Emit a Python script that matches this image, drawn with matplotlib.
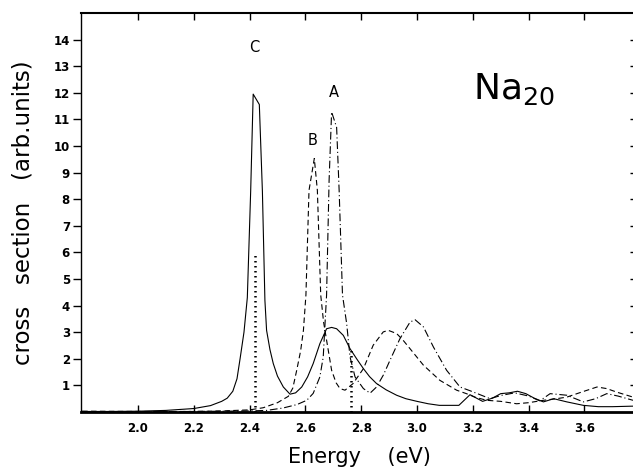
import numpy as np
import matplotlib
matplotlib.use("Agg")
import matplotlib.pyplot as plt

# energies (eV) and cross sections
energy_c = [1.80, 1.90, 2.00, 2.10, 2.20, 2.26, 2.30, 2.32, 2.34, 2.355, 2.366, 2.38, 2.392,
            2.404, 2.413, 2.435, 2.446, 2.455, 2.461, 2.473, 2.485, 2.50, 2.521, 2.545,
            2.565, 2.587, 2.608, 2.628, 2.652, 2.676, 2.694, 2.712, 2.736, 2.760, 2.785,
            2.808, 2.83, 2.855, 2.89, 2.927, 2.96, 3.00, 3.04, 3.08, 3.15, 3.19, 3.235,
            3.27, 3.30, 3.33, 3.36, 3.39, 3.42, 3.453, 3.49, 3.537, 3.596, 3.65, 3.70, 3.774]
sigma_c = [0.02, 0.02, 0.03, 0.06, 0.13, 0.24, 0.40, 0.52, 0.78, 1.25, 2.0, 3.0, 4.3,
           8.3, 11.95, 11.56, 8.3, 4.2, 3.07, 2.35, 1.82, 1.35, 0.94, 0.67,
           0.72, 0.94, 1.32, 1.82, 2.57, 3.13, 3.18, 3.13, 2.88, 2.38, 1.98,
           1.63, 1.33, 1.07, 0.83, 0.63, 0.50, 0.40, 0.31, 0.25, 0.25, 0.65, 0.40,
           0.52, 0.69, 0.72, 0.78, 0.69, 0.52, 0.38, 0.5, 0.38, 0.25, 0.2, 0.2, 0.22]

energy_b = [1.80, 2.00, 2.20, 2.30, 2.40, 2.449, 2.50, 2.539, 2.555, 2.569, 2.583, 2.593,
            2.602, 2.613, 2.632, 2.643, 2.655, 2.665, 2.676, 2.694, 2.71, 2.724, 2.742,
            2.771, 2.808, 2.843, 2.879, 2.897, 2.927, 2.95, 2.975, 3.023, 3.082, 3.142,
            3.177, 3.21, 3.25, 3.30, 3.357, 3.40, 3.453, 3.50, 3.537, 3.59, 3.645, 3.68,
            3.715, 3.774]
sigma_b = [0.03, 0.02, 0.02, 0.04, 0.08, 0.16, 0.35, 0.59, 0.9, 1.57, 2.3, 3.07,
           4.4, 8.33, 9.53, 8.33, 4.4, 3.4, 2.7, 1.57, 1.1, 0.88, 0.82,
           1.07, 1.63, 2.51, 3.01, 3.07, 2.95, 2.7, 2.38, 1.76, 1.19, 0.82,
           0.69, 0.55, 0.44, 0.4, 0.31, 0.35, 0.44, 0.5, 0.56, 0.75, 0.94, 0.88,
           0.75, 0.56]

energy_a = [1.80, 2.00, 2.20, 2.40, 2.461, 2.52, 2.57, 2.605, 2.628, 2.652, 2.664, 2.676,
            2.685, 2.694, 2.712, 2.721, 2.733, 2.748, 2.76, 2.778, 2.808, 2.832, 2.855,
            2.88, 2.903, 2.939, 2.975, 2.993, 3.023, 3.059, 3.106, 3.154, 3.19, 3.262,
            3.30, 3.35, 3.40, 3.44, 3.477, 3.537, 3.596, 3.64, 3.68, 3.72, 3.774]
sigma_a = [0.01, 0.01, 0.02, 0.04, 0.06, 0.15, 0.28, 0.44, 0.7, 1.32, 2.07, 4.4,
           8.7, 11.28, 10.7, 8.33, 4.4, 3.32, 2.07, 1.32, 0.88, 0.71, 0.94,
           1.4, 1.94, 2.76, 3.38, 3.47, 3.2, 2.44, 1.57, 0.94, 0.8, 0.5,
           0.62, 0.72, 0.6, 0.42, 0.69, 0.63, 0.38, 0.5, 0.69, 0.6, 0.44]

# dotted vertical markers
marker_energy = [2.42, 2.763]
marker_height = [6.0, 2.4]

peak_labels = ["C", "B", "A"]
peak_label_pos = [(2.416, 13.7), (2.626, 10.2), (2.703, 12.0)]

xticks = [2.0, 2.2, 2.4, 2.6, 2.8, 3.0, 3.2, 3.4, 3.6]
yticks = list(range(1, 15))

fig = plt.figure(figsize=(6.33, 4.74), dpi=100)
ax = fig.add_axes([81 / 633, 62 / 474, 552 / 633, 399 / 474])

ax.plot(energy_c, sigma_c, color="black", lw=0.8, ls="-")
ax.plot(energy_b, sigma_b, color="black", lw=0.8, ls=(0, (5, 3)))
ax.plot(energy_a, sigma_a, color="black", lw=0.8, ls=(0, (7, 2.5, 1, 2.5)))

for e, h in zip(marker_energy, marker_height):
    ax.plot([e, e], [0, h], color="black", lw=1.8, ls=(0, (0.6, 1.4)))

for lab, (x, y) in zip(peak_labels, peak_label_pos):
    ax.text(x, y, lab, ha="center", va="center", fontsize=10.5)

ax.text(3.20, 11.75, r"Na$_{20}$", fontsize=26, ha="left", va="baseline")

ax.set_xlim(1.796, 3.774)
ax.set_ylim(0, 15)
ax.set_xticks(xticks)
ax.set_xticklabels([f"{t:.1f}" for t in xticks])
ax.set_yticks(yticks)
ax.tick_params(axis="x", direction="in", length=5, width=1, top=True,
               labelsize=8.5, pad=7)
ax.tick_params(axis="y", direction="out", length=6, width=1, right=False,
               labelsize=8.5, pad=2)
for lbl in ax.get_xticklabels() + ax.get_yticklabels():
    lbl.set_fontweight("bold")

# short inward ticks on the right edge
ax2 = ax.twinx()
ax2.set_ylim(0, 15)
ax2.set_yticks(yticks)
ax2.tick_params(axis="y", direction="in", length=2.5, width=1, labelright=False)
for s in ax2.spines.values():
    s.set_visible(False)

ax.spines["right"].set_visible(False)
ax.spines["bottom"].set_linewidth(2.0)
ax.spines["top"].set_linewidth(1.5)
ax.spines["left"].set_linewidth(1.0)

ax.set_xlabel("Energy    (eV)", fontsize=15)
ax.xaxis.set_label_coords(0.505, -0.088)
ax.set_ylabel("cross   section   (arb.units)", fontsize=16.5)
ax.yaxis.set_label_coords(-0.085, 0.5)

fig.savefig("out.png", dpi=100)
